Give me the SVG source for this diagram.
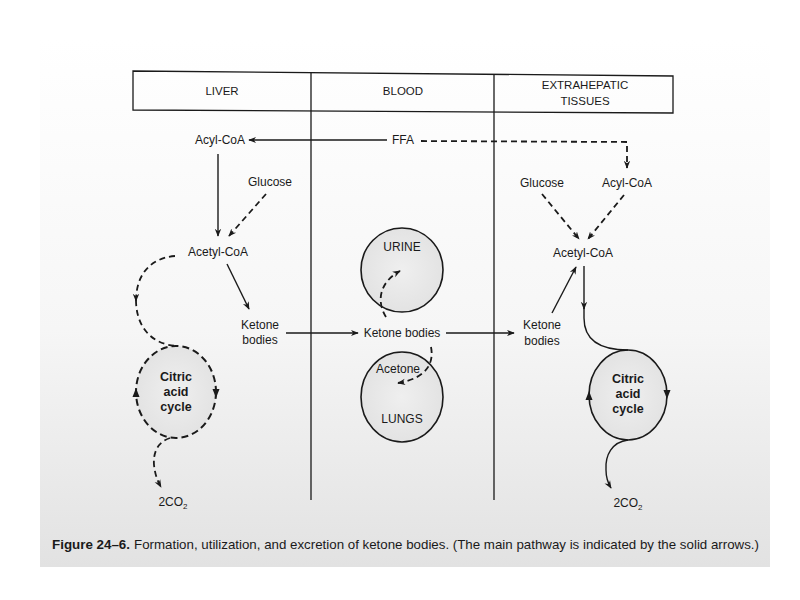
<svg xmlns="http://www.w3.org/2000/svg" width="800" height="600" viewBox="0 0 800 600">
<defs>
<linearGradient id="page" x1="0" y1="0" x2="0" y2="1">
<stop offset="0" stop-color="#ffffff"/>
<stop offset="0.55" stop-color="#f6f6f6"/>
<stop offset="1" stop-color="#e2e2e2"/>
</linearGradient>
<radialGradient id="speck" cx="0.5" cy="0.5" r="0.5">
<stop offset="0" stop-color="#efefef"/>
<stop offset="1" stop-color="#e3e3e3"/>
</radialGradient>
<marker id="arr" viewBox="0 0 10 10" refX="9" refY="5" markerWidth="8" markerHeight="8" markerUnits="userSpaceOnUse" orient="auto">
<path d="M0,1 L10,5 L0,9 L3,5 z" fill="#1a1a1a"/>
</marker>
</defs>
<style>
text{font-family:"Liberation Sans",Arial,sans-serif;font-size:12px;fill:#1a1a1a;text-anchor:middle}
.h{font-size:11.5px}
.b{font-weight:bold;font-size:12.5px}
.s{fill:none;stroke:#1a1a1a;stroke-width:1.4}
.d{fill:none;stroke:#1a1a1a;stroke-width:1.8;stroke-dasharray:6 4}
.c{fill:url(#speck);stroke:#1a1a1a;stroke-width:1.6}
.cd{fill:url(#speck);stroke:#1a1a1a;stroke-width:2;stroke-dasharray:7 4}
.frame{fill:none;stroke:#1a1a1a;stroke-width:1.3}
.tip{fill:#1a1a1a}
.cap{text-anchor:start;font-size:13.2px}
</style>

<rect x="0" y="0" width="800" height="600" fill="#ffffff"/>
<rect x="40" y="40" width="730" height="527" fill="url(#page)"/>

<g id="header">
<polygon class="frame" points="133,71 673,76 673,113 133,110"/>
<line class="frame" x1="311" y1="72" x2="311" y2="500"/>
<line class="frame" x1="494" y1="74" x2="494" y2="500"/>
<text class="h" x="222" y="95">LIVER</text>
<text class="h" x="403" y="95">BLOOD</text>
<text class="h" x="585" y="89">EXTRAHEPATIC</text>
<text class="h" x="585" y="105">TISSUES</text>
</g>

<g id="liver-acylcoa"><text x="220" y="144">Acyl-CoA</text></g>
<g id="ffa"><text x="403" y="144">FFA</text></g>
<g id="liver-glucose"><text x="270" y="186">Glucose</text></g>
<g id="liver-acetylcoa"><text x="218" y="256">Acetyl-CoA</text></g>
<g id="liver-ketone"><text x="260" y="329">Ketone</text><text x="260" y="344">bodies</text></g>
<g id="liver-cycle">
<ellipse class="cd" cx="176" cy="392" rx="40" ry="46"/>
<polygon class="tip" points="136,388 132.5,397 139.5,397"/>
<polygon class="tip" points="216,398 212.5,389 219.5,389"/>
<text class="b" x="176" y="381">Citric</text>
<text class="b" x="176" y="396">acid</text>
<text class="b" x="176" y="411">cycle</text>
</g>
<g id="liver-co2"><text x="173" y="506">2CO<tspan font-size="8" dy="3">2</tspan></text></g>

<g id="blood-ketone"><text x="402" y="337">Ketone bodies</text></g>
<g id="urine">
<ellipse class="c" cx="402" cy="270" rx="41" ry="42"/>
<text x="402" y="251">URINE</text>
</g>
<g id="lungs">
<ellipse class="c" cx="402" cy="397" rx="41" ry="45"/>
<text x="398" y="373">Acetone</text>
<text x="402" y="423">LUNGS</text>
</g>

<g id="ext-glucose"><text x="542" y="187">Glucose</text></g>
<g id="ext-acylcoa"><text x="627" y="187">Acyl-CoA</text></g>
<g id="ext-acetylcoa"><text x="583" y="257">Acetyl-CoA</text></g>
<g id="ext-ketone"><text x="542" y="329">Ketone</text><text x="542" y="345">bodies</text></g>
<g id="ext-cycle">
<ellipse class="c" cx="628" cy="395" rx="39" ry="45"/>
<polygon class="tip" points="589,391 585.5,400 592.5,400"/>
<polygon class="tip" points="667,399 663.5,390 670.5,390"/>
<text class="b" x="628" y="383">Citric</text>
<text class="b" x="628" y="398">acid</text>
<text class="b" x="628" y="413">cycle</text>
</g>
<g id="ext-co2"><text x="628" y="507">2CO<tspan font-size="8" dy="3">2</tspan></text></g>

<g id="connectors">
<line class="s" x1="387" y1="140" x2="249" y2="140" marker-end="url(#arr)"/>
<path class="d" d="M421,141 L627,142 L627,168" marker-end="url(#arr)"/>
<line class="s" x1="218" y1="154" x2="218" y2="236" marker-end="url(#arr)"/>
<line class="d" x1="266" y1="194" x2="229" y2="236" marker-end="url(#arr)"/>
<line class="s" x1="227" y1="264" x2="249" y2="309" marker-end="url(#arr)"/>
<path class="d" d="M175,256 C150,258 136,275 136,301" marker-end="url(#arr)"/>
<path class="d" d="M136,300 C136,325 150,345 178,346"/>
<path class="d" d="M170,438 C158,442 153,452 154,465 C155,474 157,480 161,487" marker-end="url(#arr)"/>
<line class="s" x1="286" y1="333" x2="358" y2="333" marker-end="url(#arr)"/>
<line class="s" x1="446" y1="333" x2="514" y2="333" marker-end="url(#arr)"/>
<path class="d" d="M386,317 C377,303 378,283 400,271" marker-end="url(#arr)"/>
<path class="d" d="M431,347 C434,362 428,378 398,383" marker-end="url(#arr)"/>
<line class="d" x1="542" y1="194" x2="579" y2="239" marker-end="url(#arr)"/>
<line class="d" x1="624" y1="195" x2="588" y2="239" marker-end="url(#arr)"/>
<line class="s" x1="552" y1="313" x2="576" y2="267" marker-end="url(#arr)"/>
<line class="s" x1="584" y1="266" x2="584" y2="309" marker-end="url(#arr)"/>
<path class="s" d="M584,307 L584,318 C584,340 600,350 628,350"/>
<path class="s" d="M628,440 C612,442 605,455 606,470 C606,478 608,483 611,488" marker-end="url(#arr)"/>
</g>

<g id="caption">
<text class="cap" x="52" y="549" font-weight="bold" textLength="78" lengthAdjust="spacingAndGlyphs">Figure 24–6.</text>
<text class="cap" x="134" y="549" textLength="625" lengthAdjust="spacingAndGlyphs">Formation, utilization, and excretion of ketone bodies. (The main pathway is indicated by the solid arrows.)</text>
</g>
</svg>
